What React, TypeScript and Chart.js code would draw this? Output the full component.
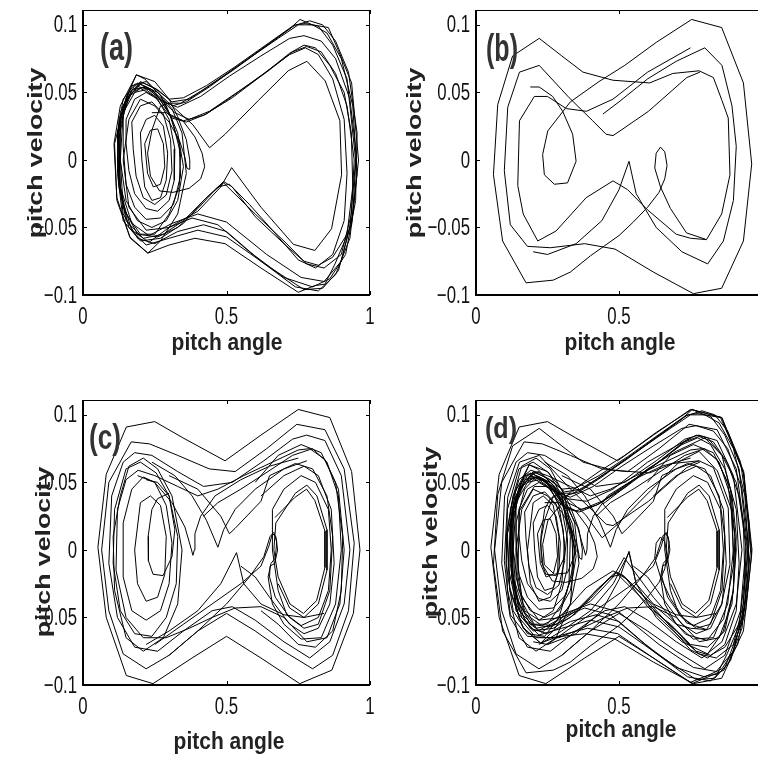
import React, { useEffect, useRef } from "react";
import { Chart, registerables } from "chart.js";

Chart.register(...registerables);

// ---------- axis data ----------
const X_TICKS = [0, 0.5, 1];
const X_TICK_LABELS = ["0", "0.5", "1"];
const Y_TICKS = [-0.1, -0.05, 0, 0.05, 0.1];
const Y_TICK_LABELS = ["\u22120.1", "\u22120.05", "0", "0.05", "0.1"];
const X_MIN = 0;
const X_MAX = 1;
const Y_MIN = -0.1;
const Y_MAX = 0.111;
const X_TITLE = "pitch angle";
const Y_TITLE = "pitch velocity";
const PANEL_LABELS = ["(a)", "(b)", "(c)", "(d)"];

type Pt = [number, number];

// ---------- panel (a) trajectories ----------
const a1: Pt[] = [[0.19,0.057],[0.24,0.052],[0.29,0.042],[0.34,0.042],[0.42,0.052],[0.52,0.066],[0.63,0.083],[0.72,0.097],[0.756,0.104],[0.8,0.1],[0.855,0.098],[0.89,0.081],[0.936,0.057],[0.96,0.0],[0.936,-0.048],[0.878,-0.077],[0.843,-0.092],[0.808,-0.093],[0.75,-0.098],[0.62,-0.08],[0.495,-0.062],[0.39,-0.058],[0.3,-0.063],[0.226,-0.069],[0.165,-0.058],[0.118,-0.03],[0.11,0.012],[0.15,0.046],[0.186,0.063],[0.25,0.058],[0.3,0.045]];
const a2: Pt[] = [[0.21,0.055],[0.26,0.05],[0.31,0.04],[0.36,0.043],[0.44,0.054],[0.53,0.068],[0.64,0.085],[0.74,0.1],[0.775,0.101],[0.82,0.099],[0.87,0.085],[0.92,0.06],[0.95,0.0],[0.93,-0.05],[0.89,-0.082],[0.835,-0.095],[0.77,-0.096],[0.64,-0.078],[0.5,-0.057],[0.4,-0.052],[0.3,-0.058],[0.22,-0.063],[0.16,-0.05],[0.125,-0.02],[0.12,0.02],[0.15,0.045],[0.2,0.056]];
const a3: Pt[] = [[0.2,0.053],[0.25,0.047],[0.3,0.033],[0.35,0.029],[0.42,0.033],[0.52,0.046],[0.62,0.062],[0.72,0.079],[0.77,0.085],[0.81,0.083],[0.86,0.07],[0.91,0.05],[0.935,0.02],[0.94,-0.02],[0.92,-0.055],[0.87,-0.072],[0.82,-0.078],[0.77,-0.075],[0.7,-0.06],[0.6,-0.04],[0.49,-0.017],[0.43,-0.028],[0.35,-0.045],[0.28,-0.055],[0.21,-0.058],[0.15,-0.045],[0.125,-0.015],[0.13,0.025],[0.16,0.047],[0.2,0.053]];
const a4: Pt[] = [[0.22,0.054],[0.27,0.045],[0.32,0.035],[0.37,0.03],[0.44,0.036],[0.53,0.049],[0.64,0.065],[0.73,0.08],[0.78,0.084],[0.83,0.08],[0.88,0.064],[0.92,0.04],[0.945,0.0],[0.935,-0.04],[0.9,-0.07],[0.84,-0.08],[0.78,-0.077],[0.7,-0.062],[0.6,-0.042],[0.52,-0.02],[0.49,-0.016],[0.42,-0.03],[0.35,-0.047],[0.27,-0.058],[0.2,-0.06],[0.14,-0.045],[0.12,-0.01],[0.125,0.03],[0.17,0.052],[0.22,0.054]];
const a5: Pt[] = [[0.2,0.058],[0.25,0.053],[0.3,0.045],[0.35,0.046],[0.43,0.055],[0.53,0.069],[0.65,0.087],[0.73,0.099],[0.79,0.103],[0.835,0.1],[0.88,0.088],[0.925,0.065],[0.955,0.02],[0.95,-0.03],[0.915,-0.07],[0.86,-0.088],[0.8,-0.094],[0.7,-0.087],[0.58,-0.068],[0.47,-0.048],[0.38,-0.043],[0.3,-0.05],[0.23,-0.061],[0.17,-0.052],[0.13,-0.025],[0.125,0.015],[0.15,0.043],[0.2,0.058]];
const a6: Pt[] = [[0.18,0.055],[0.23,0.052],[0.28,0.043],[0.33,0.039],[0.41,0.047],[0.51,0.062],[0.62,0.077],[0.72,0.09],[0.77,0.092],[0.83,0.088],[0.88,0.075],[0.93,0.045],[0.952,0.005],[0.94,-0.04],[0.9,-0.075],[0.84,-0.09],[0.76,-0.087],[0.64,-0.07],[0.5,-0.046],[0.4,-0.04],[0.31,-0.047],[0.23,-0.056],[0.17,-0.047],[0.13,-0.02],[0.125,0.02],[0.14,0.04],[0.18,0.055]];
const a7: Pt[] = [[0.21,0.057],[0.26,0.052],[0.31,0.043],[0.37,0.045],[0.46,0.058],[0.57,0.074],[0.68,0.09],[0.75,0.1],[0.8,0.1],[0.85,0.094],[0.9,0.075],[0.94,0.04],[0.955,-0.01],[0.93,-0.058],[0.88,-0.085],[0.82,-0.097],[0.74,-0.094],[0.62,-0.075],[0.5,-0.053],[0.42,-0.048],[0.33,-0.053],[0.25,-0.062],[0.19,-0.058],[0.14,-0.04],[0.12,0.0],[0.13,0.035],[0.17,0.055],[0.21,0.057]];
const a8: Pt[] = [[0.22,0.052],[0.27,0.044],[0.31,0.031],[0.36,0.028],[0.43,0.034],[0.52,0.047],[0.63,0.064],[0.72,0.078],[0.775,0.083],[0.82,0.078],[0.87,0.06],[0.91,0.03],[0.92,-0.01],[0.91,-0.045],[0.87,-0.07],[0.81,-0.08],[0.75,-0.074],[0.66,-0.052],[0.58,-0.033],[0.51,-0.018],[0.47,-0.02],[0.4,-0.036],[0.33,-0.05],[0.26,-0.057],[0.19,-0.055],[0.14,-0.035],[0.13,0.0],[0.14,0.035],[0.18,0.05],[0.22,0.052]];
const a9: Pt[] = [[0.24,0.035],[0.29,0.035],[0.348,0.029],[0.39,0.017],[0.415,0.005],[0.424,-0.005],[0.41,-0.014],[0.37,-0.021],[0.314,-0.024],[0.267,-0.023],[0.235,-0.012],[0.225,0.005],[0.24,0.022],[0.27,0.04],[0.3,0.042],[0.383,0.026],[0.441,0.009],[0.495,0.019],[0.611,0.044],[0.715,0.066],[0.78,0.073],[0.844,0.0585],[0.895,0.029],[0.901,-0.011],[0.866,-0.051],[0.808,-0.067],[0.733,-0.0625],[0.62,-0.035],[0.518,-0.0057],[0.48,-0.02],[0.4,-0.038],[0.3,-0.05],[0.22,-0.052],[0.16,-0.035],[0.14,0.0],[0.16,0.03],[0.2,0.045],[0.25,0.04],[0.3,0.028],[0.335,0.015],[0.355,0.002],[0.362,-0.006],[0.37,-0.007],[0.372,0.0],[0.36,0.015],[0.33,0.032],[0.3,0.045]];
const al1: Pt[] = [[0.13,0.03],[0.16,0.05],[0.2,0.056],[0.24,0.052],[0.29,0.04],[0.33,0.02],[0.35,-0.005],[0.33,-0.03],[0.29,-0.045],[0.24,-0.05],[0.19,-0.045],[0.15,-0.03],[0.13,0.0],[0.13,0.03]];
const al2: Pt[] = [[0.14,0.035],[0.17,0.05],[0.21,0.054],[0.25,0.05],[0.3,0.035],[0.335,0.012],[0.34,-0.012],[0.315,-0.033],[0.27,-0.043],[0.22,-0.044],[0.18,-0.035],[0.15,-0.018],[0.14,0.01],[0.14,0.035]];
const al3: Pt[] = [[0.15,0.03],[0.18,0.045],[0.22,0.05],[0.26,0.045],[0.3,0.03],[0.32,0.008],[0.318,-0.015],[0.3,-0.03],[0.26,-0.038],[0.22,-0.036],[0.18,-0.025],[0.16,-0.008],[0.15,0.012],[0.15,0.03]];
const al4: Pt[] = [[0.17,0.028],[0.2,0.04],[0.24,0.043],[0.28,0.034],[0.305,0.015],[0.31,-0.008],[0.29,-0.026],[0.25,-0.033],[0.21,-0.028],[0.185,-0.012],[0.175,0.008],[0.17,0.028]];
const al5: Pt[] = [[0.2,0.02],[0.22,0.03],[0.25,0.033],[0.28,0.025],[0.295,0.005],[0.29,-0.015],[0.27,-0.028],[0.24,-0.03],[0.215,-0.02],[0.205,0.0],[0.2,0.02]];
const al6: Pt[] = [[0.215,0.012],[0.235,0.022],[0.26,0.023],[0.28,0.012],[0.285,-0.005],[0.27,-0.018],[0.245,-0.02],[0.225,-0.01],[0.215,0.012]];
const al7: Pt[] = [[0.108,0.012],[0.13,0.04],[0.186,0.063],[0.215,0.06],[0.26,0.05],[0.31,0.038],[0.345,0.02],[0.36,-0.01],[0.33,-0.04],[0.27,-0.06],[0.226,-0.069],[0.163,-0.057],[0.118,-0.028],[0.108,0.012]];
const al8: Pt[] = [[0.12,0.02],[0.14,0.045],[0.18,0.056],[0.22,0.058],[0.27,0.048],[0.31,0.03],[0.34,0.005],[0.335,-0.02],[0.3,-0.04],[0.25,-0.055],[0.2,-0.055],[0.15,-0.04],[0.125,-0.015],[0.12,0.02]];

// ---------- panel (b) trajectories ----------
const b1: Pt[] = [[0.128,0.077],[0.221,0.09],[0.3,0.077],[0.374,0.065],[0.479,0.059],[0.607,0.057],[0.688,0.064],[0.78,0.066],[0.83,0.061],[0.86,0.044],[0.882,0.031],[0.888,-0.011],[0.859,-0.04],[0.806,-0.059],[0.736,-0.054],[0.68,-0.036],[0.645,-0.02],[0.625,-0.006],[0.63,0.005],[0.645,0.0095],[0.66,0.006],[0.668,-0.004],[0.66,-0.014],[0.64,-0.024],[0.6,-0.035],[0.55,-0.046],[0.5,-0.056],[0.4,-0.071],[0.33,-0.083],[0.27,-0.089],[0.175,-0.091],[0.093,-0.06],[0.061,-0.011],[0.076,0.041],[0.128,0.077]];
const b2: Pt[] = [[0.19,0.054],[0.221,0.054],[0.268,0.047],[0.303,0.036],[0.338,0.019],[0.35,-0.001],[0.32,-0.017],[0.274,-0.018],[0.239,-0.011],[0.233,0.004],[0.251,0.0215],[0.33,0.043],[0.43,0.058],[0.52,0.07],[0.63,0.087],[0.754,0.104],[0.859,0.098],[0.935,0.057],[0.964,-0.003],[0.935,-0.06],[0.859,-0.095],[0.76,-0.099],[0.62,-0.083],[0.486,-0.066],[0.38,-0.062],[0.26,-0.065],[0.18,-0.064],[0.12,-0.048],[0.099,-0.008],[0.111,0.039],[0.152,0.065],[0.221,0.07],[0.326,0.046],[0.408,0.029],[0.455,0.019],[0.479,0.018],[0.507,0.022],[0.603,0.036],[0.737,0.061],[0.783,0.065]];
const b3: Pt[] = [[0.75,0.083],[0.6,0.065],[0.479,0.045],[0.386,0.036],[0.316,0.038],[0.25,0.047],[0.204,0.047],[0.152,0.029],[0.146,-0.019],[0.165,-0.04],[0.216,-0.06],[0.28,-0.0526],[0.385,-0.028],[0.479,-0.0155],[0.53,-0.022],[0.6,-0.037],[0.7,-0.055],[0.75,-0.058],[0.806,-0.059]];
const b4: Pt[] = [[0.2,-0.068],[0.25,-0.07],[0.35,-0.062],[0.44,-0.045],[0.5,-0.022],[0.535,-0.001],[0.56,-0.025],[0.63,-0.05],[0.72,-0.068],[0.81,-0.077],[0.865,-0.06],[0.9,-0.03],[0.91,0.01],[0.895,0.04],[0.86,0.07],[0.8,0.083],[0.7,0.073],[0.6,0.06],[0.5,0.043],[0.444,0.034]];

// ---------- panel (c) trajectories ----------
const c1: Pt[] = [[0.151,0.091],[0.25,0.095],[0.348,0.083],[0.495,0.066],[0.62,0.085],[0.75,0.104],[0.86,0.098],[0.936,0.058],[0.965,0.0],[0.942,-0.047],[0.867,-0.089],[0.755,-0.099],[0.62,-0.08],[0.5,-0.064],[0.38,-0.08],[0.244,-0.099],[0.151,-0.093],[0.081,-0.05],[0.052,0.002],[0.081,0.056],[0.151,0.091]];
const c2: Pt[] = [[0.168,0.08],[0.232,0.0785],[0.33,0.07],[0.44,0.06],[0.53,0.058],[0.64,0.075],[0.745,0.093],[0.843,0.089],[0.91,0.06],[0.945,0.005],[0.925,-0.045],[0.87,-0.078],[0.8,-0.088],[0.7,-0.075],[0.6,-0.06],[0.5,-0.047],[0.4,-0.06],[0.3,-0.078],[0.22,-0.088],[0.14,-0.077],[0.09,-0.045],[0.065,0.0],[0.09,0.05],[0.168,0.08]];
const c3: Pt[] = [[0.18,0.072],[0.24,0.07],[0.33,0.058],[0.42,0.047],[0.52,0.05],[0.63,0.066],[0.73,0.082],[0.779,0.085],[0.843,0.081],[0.9,0.055],[0.93,0.0],[0.91,-0.04],[0.86,-0.068],[0.79,-0.08],[0.7,-0.068],[0.6,-0.052],[0.52,-0.042],[0.45,-0.045],[0.35,-0.06],[0.26,-0.075],[0.18,-0.072],[0.12,-0.05],[0.09,-0.01],[0.1,0.04],[0.14,0.065],[0.18,0.072]];
const c4: Pt[] = [[0.192,0.059],[0.25,0.055],[0.33,0.047],[0.4,0.04],[0.47,0.045],[0.56,0.055],[0.66,0.065],[0.75,0.074],[0.79,0.075],[0.843,0.067],[0.89,0.045],[0.91,0.0],[0.895,-0.04],[0.85,-0.065],[0.78,-0.068],[0.7,-0.05],[0.62,-0.042],[0.53,-0.043],[0.45,-0.05],[0.37,-0.058],[0.29,-0.065],[0.21,-0.065],[0.15,-0.05],[0.115,-0.015],[0.12,0.03],[0.15,0.052],[0.192,0.059]];
const c5: Pt[] = [[0.15,0.06],[0.2,0.065],[0.255,0.057],[0.3,0.04],[0.33,0.01],[0.325,-0.025],[0.29,-0.05],[0.24,-0.064],[0.18,-0.062],[0.13,-0.045],[0.105,-0.01],[0.11,0.03],[0.15,0.06]];
const c6: Pt[] = [[0.17,0.045],[0.21,0.054],[0.25,0.05],[0.29,0.033],[0.31,0.005],[0.3,-0.025],[0.27,-0.045],[0.22,-0.052],[0.17,-0.045],[0.14,-0.02],[0.14,0.02],[0.17,0.045]];
const c7: Pt[] = [[0.2,0.035],[0.235,0.04],[0.27,0.033],[0.29,0.01],[0.285,-0.018],[0.26,-0.035],[0.22,-0.038],[0.19,-0.025],[0.18,0.0],[0.2,0.035]];
const c8: Pt[] = [[0.3,0.042],[0.26,0.038],[0.24,0.03],[0.227,0.01],[0.228,-0.008],[0.244,-0.018],[0.279,-0.019],[0.31,-0.005],[0.32,0.015],[0.3,0.04],[0.26,0.05],[0.22,0.052]];
const c9: Pt[] = [[0.669,0.024],[0.739,0.039],[0.779,0.045],[0.808,0.0365],[0.843,0.014],[0.843,-0.013],[0.814,-0.0375],[0.768,-0.047],[0.721,-0.04],[0.68,-0.02],[0.665,0.0],[0.672,0.02],[0.74,0.042],[0.78,0.048],[0.815,0.04],[0.85,0.015],[0.85,-0.015],[0.82,-0.04],[0.77,-0.05],[0.72,-0.043],[0.68,-0.025]];
const c10: Pt[] = [[0.62,0.04],[0.7,0.055],[0.77,0.062],[0.82,0.055],[0.865,0.03],[0.875,-0.01],[0.86,-0.04],[0.82,-0.058],[0.77,-0.062],[0.72,-0.055],[0.65,-0.035],[0.6,-0.02],[0.55,-0.012]];
const c11: Pt[] = [[0.25,-0.07],[0.35,-0.055],[0.45,-0.04],[0.55,-0.025],[0.62,-0.012],[0.648,0.003],[0.66,0.012],[0.672,0.01],[0.678,0.0],[0.668,-0.01],[0.652,-0.012],[0.65,-0.02],[0.67,-0.035],[0.72,-0.05],[0.77,-0.058],[0.82,-0.055],[0.86,-0.03],[0.87,0.01],[0.85,0.04],[0.8,0.06],[0.74,0.064],[0.65,0.055],[0.62,0.036],[0.53,0.016],[0.51,0.012],[0.48,0.025],[0.4,0.045],[0.3,0.055]];
const c12: Pt[] = [[0.3,-0.078],[0.4,-0.06],[0.5,-0.04],[0.58,-0.02],[0.63,-0.005],[0.652,0.01],[0.665,0.013],[0.675,0.006],[0.67,-0.006],[0.655,-0.01],[0.645,-0.02],[0.66,-0.04],[0.7,-0.055],[0.76,-0.066],[0.83,-0.065],[0.88,-0.04],[0.9,0.0],[0.89,0.04],[0.85,0.065],[0.8,0.075],[0.73,0.07],[0.63,0.056],[0.55,0.045],[0.47,0.035],[0.42,0.025]];
const c13: Pt[] = [[0.22,-0.07],[0.3,-0.06],[0.4,-0.045],[0.48,-0.025],[0.535,-0.002],[0.56,-0.025],[0.62,-0.04],[0.7,-0.048],[0.77,-0.05],[0.84,-0.047]];
const c14: Pt[] = [[0.19,0.055],[0.25,0.05],[0.31,0.035],[0.355,0.017],[0.378,0.0],[0.383,-0.004],[0.388,0.0],[0.39,0.012],[0.41,0.025],[0.46,0.04],[0.55,0.052],[0.65,0.062],[0.75,0.068]];
const c15: Pt[] = [[0.24,0.065],[0.32,0.055],[0.38,0.04],[0.43,0.022],[0.47,0.002],[0.49,0.015],[0.53,0.03],[0.6,0.045],[0.7,0.06],[0.78,0.066]];
const c16: Pt[] = [[0.6,0.05],[0.68,0.07],[0.76,0.078],[0.83,0.072],[0.88,0.05],[0.905,0.01],[0.9,-0.03],[0.87,-0.06],[0.81,-0.072],[0.75,-0.07],[0.68,-0.055],[0.62,-0.045]];
const c17: Pt[] = [[0.66,0.03],[0.7,0.045],[0.76,0.055],[0.81,0.05],[0.855,0.03],[0.865,0.0],[0.855,-0.03],[0.82,-0.05],[0.76,-0.056],[0.71,-0.048],[0.68,-0.03],[0.66,0.0],[0.66,0.03]];
const c18: Pt[] = [[0.13,0.04],[0.16,0.062],[0.21,0.068],[0.26,0.06],[0.31,0.04],[0.345,0.0],[0.33,-0.04],[0.28,-0.065],[0.21,-0.075],[0.15,-0.065],[0.11,-0.03],[0.105,0.01],[0.13,0.04]];

const panelA: Pt[][] = [a1, a2, a3, a4, a5, a6, a7, a8, a9, al1, al2, al3, al4, al5, al6, al7, al8];
const panelB: Pt[][] = [b1, b2, b3, b4];
const panelC: Pt[][] = [c1, c2, c3, c4, c5, c6, c7, c8, c9, c10, c11, c12, c13, c14, c15, c16, c17, c18];
const panelD: Pt[][] = [...panelA, ...panelB, ...panelC];

// ---------- layout (page px) ----------
type Layout = {
  canvas: { left: number; top: number; w: number; h: number };
  plot: { l: number; t: number; r: number; b: number };
  yTitle: { x: number; cy: number };
  xTitle: { cx: number; y: number };
  label: { x: number; top: number; w: number; h: number };
};

const LAYOUTS: Layout[] = [
  { canvas: { left: 0, top: 0, w: 380, h: 380 }, plot: { l: 83, t: 10, r: 370, b: 295 },
    yTitle: { x: 41.5, cy: 153 }, xTitle: { cx: 227, y: 350 }, label: { x: 100, top: 32, w: 33, h: 36 } },
  { canvas: { left: 380, top: 0, w: 400, h: 380 }, plot: { l: 476, t: 10, r: 762, b: 295 },
    yTitle: { x: 420.5, cy: 153 }, xTitle: { cx: 620, y: 350 }, label: { x: 486, top: 32, w: 32, h: 37 } },
  { canvas: { left: 0, top: 380, w: 380, h: 378 }, plot: { l: 83, t: 400, r: 370, b: 685 },
    yTitle: { x: 50, cy: 552 }, xTitle: { cx: 229, y: 749 }, label: { x: 89, top: 423, w: 32, h: 33 } },
  { canvas: { left: 380, top: 380, w: 400, h: 378 }, plot: { l: 476, t: 400, r: 762, b: 685 },
    yTitle: { x: 436.5, cy: 532 }, xTitle: { cx: 621, y: 737 }, label: { x: 485, top: 417, w: 32, h: 27 } },
];

const PANEL_DATA: Pt[][][] = [panelA, panelB, panelC, panelD];

function framePlugin(idx: number) {
  const L = LAYOUTS[idx];
  return {
    id: "frame" + idx,
    afterDraw(chart: any) {
      const ctx: CanvasRenderingContext2D = chart.ctx;
      const xs = chart.scales.x;
      const ys = chart.scales.y;
      const ox = L.canvas.left;
      const oy = L.canvas.top;
      const l = L.plot.l - ox, r = L.plot.r - ox, t = L.plot.t - oy, b = L.plot.b - oy;
      ctx.save();
      ctx.strokeStyle = "#000";
      // box
      ctx.lineWidth = 1;
      ctx.beginPath();
      ctx.moveTo(l, t + 0.5); ctx.lineTo(r, t + 0.5);
      ctx.moveTo(r - 0.5, t); ctx.lineTo(r - 0.5, b);
      ctx.stroke();
      ctx.lineWidth = 2;
      ctx.beginPath();
      ctx.moveTo(l, t); ctx.lineTo(l, b + 1);
      ctx.moveTo(l - 1, b); ctx.lineTo(r, b);
      ctx.stroke();
      // inward ticks
      ctx.lineWidth = 1;
      ctx.beginPath();
      X_TICKS.forEach((v) => {
        const px = Math.round(xs.getPixelForValue(v)) + 0.5;
        ctx.moveTo(px, b); ctx.lineTo(px, b - 4);
        ctx.moveTo(px, t); ctx.lineTo(px, t + 4);
      });
      Y_TICKS.forEach((v) => {
        const py = Math.round(ys.getPixelForValue(v)) + 0.5;
        ctx.moveTo(l, py); ctx.lineTo(l + 4, py);
        ctx.moveTo(r, py); ctx.lineTo(r - 4, py);
      });
      ctx.stroke();
      // tick labels
      ctx.fillStyle = "#111";
      ctx.font = '24px "Liberation Sans", Arial, sans-serif';
      Y_TICKS.forEach((v, i) => {
        const py = ys.getPixelForValue(v);
        ctx.save();
        ctx.translate(l - 6, py + 1);
        ctx.scale(0.7, 1);
        ctx.textAlign = "right";
        ctx.textBaseline = "middle";
        ctx.fillText(Y_TICK_LABELS[i], 0, 0);
        ctx.restore();
      });
      X_TICKS.forEach((v, i) => {
        const px = xs.getPixelForValue(v);
        ctx.save();
        ctx.translate(px, b + 29);
        ctx.scale(0.7, 1);
        ctx.textAlign = "center";
        ctx.textBaseline = "alphabetic";
        ctx.fillText(X_TICK_LABELS[i], 0, 0);
        ctx.restore();
      });
      // axis titles
      ctx.fillStyle = "#222";
      ctx.font = 'bold 19.5px "Liberation Sans", Arial, sans-serif';
      ctx.save();
      ctx.translate(L.yTitle.x - ox, L.yTitle.cy - oy);
      ctx.rotate(-Math.PI / 2);
      ctx.scale(1.37, 1);
      ctx.textAlign = "center";
      ctx.textBaseline = "alphabetic";
      ctx.fillText(Y_TITLE, 0, 0);
      ctx.restore();
      ctx.font = 'bold 21px "Liberation Sans", Arial, sans-serif';
      ctx.save();
      ctx.translate(L.xTitle.cx - ox, L.xTitle.y - oy);
      ctx.scale(1, 1.1);
      ctx.textAlign = "center";
      ctx.textBaseline = "alphabetic";
      ctx.fillText(X_TITLE, 0, 0);
      ctx.restore();
      // panel label
      const fs = L.label.h / 0.94;
      ctx.font = `bold ${fs}px "Liberation Sans", Arial, sans-serif`;
      ctx.fillStyle = "#333";
      const w = ctx.measureText(PANEL_LABELS[idx]).width;
      ctx.save();
      ctx.translate(L.label.x - ox, L.label.top - oy + 0.777 * L.label.h);
      ctx.scale(L.label.w / w, 1);
      ctx.textAlign = "left";
      ctx.textBaseline = "alphabetic";
      ctx.fillText(PANEL_LABELS[idx], 0, 0);
      ctx.restore();
      ctx.restore();
    },
  };
}

function Panel({ idx }: { idx: number }) {
  const ref = useRef<HTMLCanvasElement>(null);
  const L = LAYOUTS[idx];
  useEffect(() => {
    if (!ref.current) return;
    const datasets = PANEL_DATA[idx].map((pts) => ({
      data: pts.map(([x, y]) => ({ x, y })),
      showLine: true,
      borderColor: "#000",
      backgroundColor: "#000",
      borderWidth: 1,
      pointRadius: 0,
      pointHoverRadius: 0,
      tension: 0,
      fill: false,
    }));
    const chart = new Chart(ref.current, {
      type: "scatter",
      data: { datasets },
      options: {
        animation: false,
        responsive: false,
        maintainAspectRatio: false,
        events: [],
        layout: {
          padding: {
            left: L.plot.l - L.canvas.left,
            top: L.plot.t - L.canvas.top,
            right: L.canvas.left + L.canvas.w - L.plot.r,
            bottom: L.canvas.top + L.canvas.h - L.plot.b,
          },
        },
        plugins: { legend: { display: false }, tooltip: { enabled: false } },
        scales: {
          x: { type: "linear", min: X_MIN, max: X_MAX, display: false },
          y: { type: "linear", min: Y_MIN, max: Y_MAX, display: false },
        },
      },
      plugins: [framePlugin(idx)],
    } as any);
    return () => chart.destroy();
  }, [idx]);
  return (
    <canvas
      ref={ref}
      width={L.canvas.w}
      height={L.canvas.h}
      style={{ position: "absolute", left: L.canvas.left, top: L.canvas.top, width: L.canvas.w, height: L.canvas.h }}
    />
  );
}

export default function App() {
  return (
    <div style={{ position: "fixed", left: 0, top: 0, width: 758, height: 758, overflow: "hidden", background: "#fff" }}>
      {[0, 1, 2, 3].map((i) => (
        <Panel key={i} idx={i} />
      ))}
    </div>
  );
}
